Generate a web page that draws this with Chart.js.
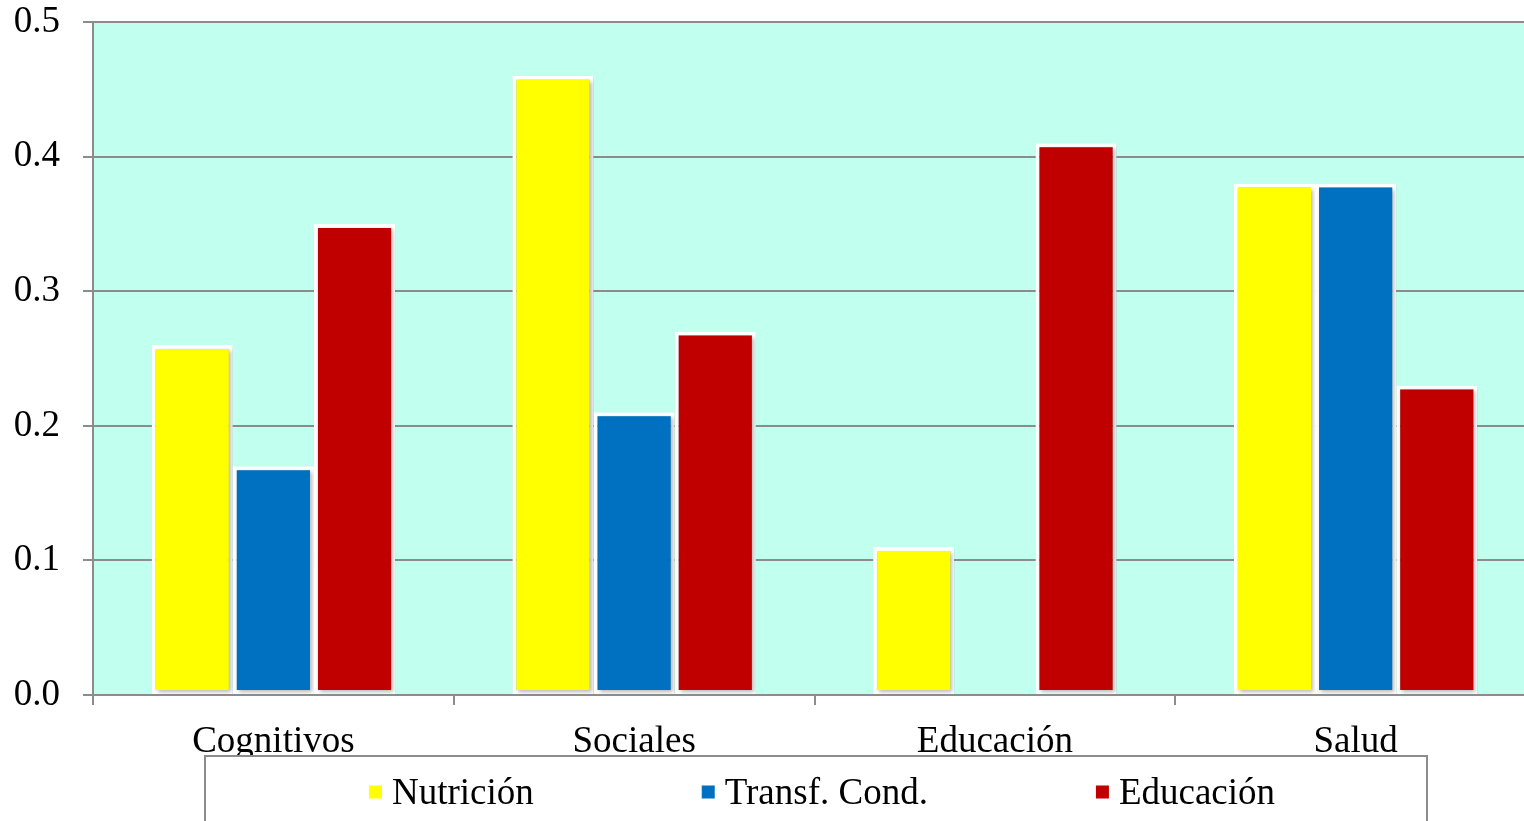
<!DOCTYPE html>
<html>
<head>
<meta charset="utf-8">
<script src="https://cdn.jsdelivr.net/npm/chart.js@4"></script>
<style>
  html, body { margin: 0; padding: 0; background: #ffffff; overflow: hidden; }
  #wrap { width: 1524px; height: 821px; overflow: hidden; }
  canvas { display: block; }
</style>
</head>
<body>
<div id="wrap"><canvas id="c" width="1540" height="821"></canvas></div>
<script>
// Categories and series
const categories = ['Cognitivos', 'Sociales', 'Educación', 'Salud'];
const seriesNames = ['Nutrición', 'Transf. Cond.', 'Educación'];
const nutricion = [0.26, 0.46, 0.11, 0.38];
const transfCond = [0.17, 0.21, null, 0.38];
const educacion = [0.35, 0.27, 0.41, 0.23];
const yTickValues = [0, 0.1, 0.2, 0.3, 0.4, 0.5];

const seriesColors = ['#FFFF00', '#0070C0', '#C00000'];
const FONT = '"Liberation Serif", "Times New Roman", serif';
const GRID = '#8c8c8c';

// Mint background behind the plot area
const plotBackground = {
  id: 'plotBackground',
  beforeDraw(chart) {
    const { ctx, chartArea: a } = chart;
    ctx.save();
    ctx.fillStyle = '#C1FFEE';
    ctx.fillRect(a.left, a.top, a.right - a.left, a.bottom - a.top);
    ctx.restore();
  }
};

// Soft drop shadow under the bars
const barShadow = {
  id: 'barShadow',
  beforeDatasetsDraw(chart) {
    const ctx = chart.ctx;
    ctx.save();
    ctx.shadowColor = 'rgba(0,0,0,0.28)';
    ctx.shadowBlur = 4;
    ctx.shadowOffsetX = 2;
    ctx.shadowOffsetY = 2;
  },
  afterDatasetsDraw(chart) {
    chart.ctx.restore();
  }
};

// Boxed legend below the category labels
const boxedLegend = {
  id: 'boxedLegend',
  afterDraw(chart) {
    const ctx = chart.ctx;
    ctx.save();
    ctx.strokeStyle = GRID;
    ctx.lineWidth = 2;
    ctx.fillStyle = '#ffffff';
    ctx.beginPath();
    ctx.rect(205, 756, 1222, 80);
    ctx.fill();
    ctx.stroke();

    ctx.font = '37px ' + FONT;
    ctx.textBaseline = 'alphabetic';
    const box = 13, gapAfterBox = 10, gapBetween = 168;
    const items = chart.data.datasets.map(ds => ({
      label: ds.label, color: ds.backgroundColor,
      w: box + gapAfterBox + ctx.measureText(ds.label).width
    }));
    const total = items.reduce((s, it) => s + it.w, 0) + gapBetween * (items.length - 1);
    let x = 822 - total / 2;
    const cy = 792;
    items.forEach(it => {
      ctx.fillStyle = it.color;
      ctx.fillRect(x, cy - box / 2, box, box);
      ctx.fillStyle = '#000000';
      ctx.fillText(it.label, x + box + gapAfterBox, cy + 12);
      x += it.w + gapBetween;
    });
    ctx.restore();
  }
};

const datasets = [nutricion, transfCond, educacion].map((vals, i) => ({
  label: seriesNames[i],
  data: vals,
  backgroundColor: seriesColors[i],
  borderColor: '#ffffff',
  borderWidth: 4,
  borderSkipped: false,
  categoryPercentage: 0.675,
  barPercentage: 1.0
}));

new Chart(document.getElementById('c'), {
  type: 'bar',
  data: { labels: categories, datasets },
  options: {
    responsive: false,
    animation: false,
    devicePixelRatio: 1,
    layout: { padding: { top: 22, right: 4, left: 0, bottom: 0 } },
    plugins: {
      legend: { display: false },
      tooltip: { enabled: false }
    },
    scales: {
      x: {
        grid: {
          offset: true,
          drawOnChartArea: false,
          drawTicks: true,
          tickLength: 10,
          color: GRID,
          lineWidth: 2
        },
        border: { display: true, color: GRID, width: 2 },
        ticks: {
          color: '#000000',
          padding: 15,
          maxRotation: 0,
          font: { family: FONT, size: 37 }
        },
        afterFit(scale) { scale.height = 126; }
      },
      y: {
        min: 0,
        max: 0.5,
        afterBuildTicks(scale) {
          scale.ticks = yTickValues.map(v => ({ value: v }));
        },
        grid: {
          color: GRID,
          lineWidth: 2,
          tickLength: 10,
          drawTicks: true
        },
        border: { display: true, color: GRID, width: 2 },
        ticks: {
          color: '#000000',
          padding: 23,
          font: { family: FONT, size: 37 },
          callback: v => Number(v).toFixed(1)
        },
        afterFit(scale) {
          scale.width = 93;
          scale.paddingTop = 0;
          scale.paddingBottom = 0;
        }
      }
    }
  },
  plugins: [plotBackground, barShadow, boxedLegend]
});
</script>
</body>
</html>
